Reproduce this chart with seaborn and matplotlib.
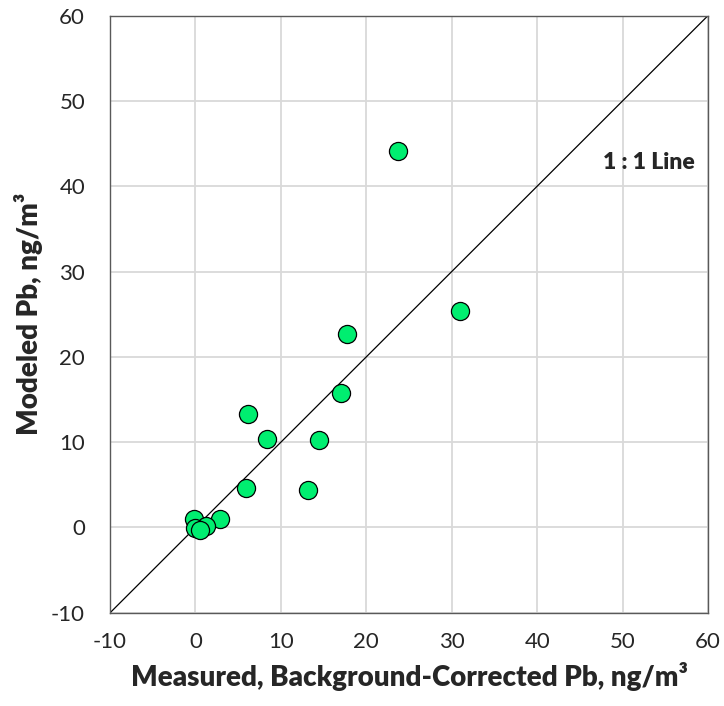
import pandas as pd
import seaborn as sns
import matplotlib.pyplot as plt

# Measured (background-corrected) vs modeled Pb, ng/m3
measured = [23.7, 31.0, 17.7, 17.0, 6.2, 8.4, 14.4, 5.9, 13.2, 2.9, -0.2, 1.2, 0.0, 0.5]
modeled = [44.1, 25.4, 22.7, 15.8, 13.3, 10.35, 10.2, 4.6, 4.45, 1.05, 1.0, 0.2, -0.1, -0.3]
ticks = [-10, 0, 10, 20, 30, 40, 50, 60]
tick_labels = [str(t) for t in ticks]  # plain hyphen like the original

df = pd.DataFrame({"measured": measured, "modeled": modeled})

sns.set_style("white")
plt.rcParams['font.family'] = ['Lato', 'DejaVu Sans']

fig = plt.figure(figsize=(7.24, 7.06), dpi=100)
ax = fig.add_axes([0.152, 0.132, 0.826, 0.846])

ax.grid(True, color='#d9d9d9', linewidth=1.3)
ax.set_axisbelow(True)

# 1:1 reference line
ax.axline((0, 0), slope=1, color='black', linewidth=0.9, zorder=2)

sns.scatterplot(data=df, x="measured", y="modeled", ax=ax, s=170,
                color='#00ee70', edgecolor='black', linewidth=0.9, zorder=3)

ax.set_xlim(-10, 60)
ax.set_ylim(-10, 60)
ax.set_xticks(ticks, tick_labels)
ax.set_yticks(ticks, tick_labels)
ax.tick_params(labelsize=16, length=0)
ax.tick_params(axis='x', pad=14)
ax.tick_params(axis='y', pad=18)
for s in ax.spines.values():
    s.set_color('#595959')
    s.set_linewidth(1)

ax.set_xlabel('Measured, Background-Corrected Pb, ng/m³', fontsize=20, fontweight='heavy', labelpad=7)
ax.set_ylabel('Modeled Pb, ng/m³', fontsize=20, fontweight='heavy', labelpad=6)

ax.text(53.1, 42.8, '1 : 1 Line', fontsize=16.5, fontweight='heavy', ha='center', va='center')

plt.savefig('out.png', dpi=100)
